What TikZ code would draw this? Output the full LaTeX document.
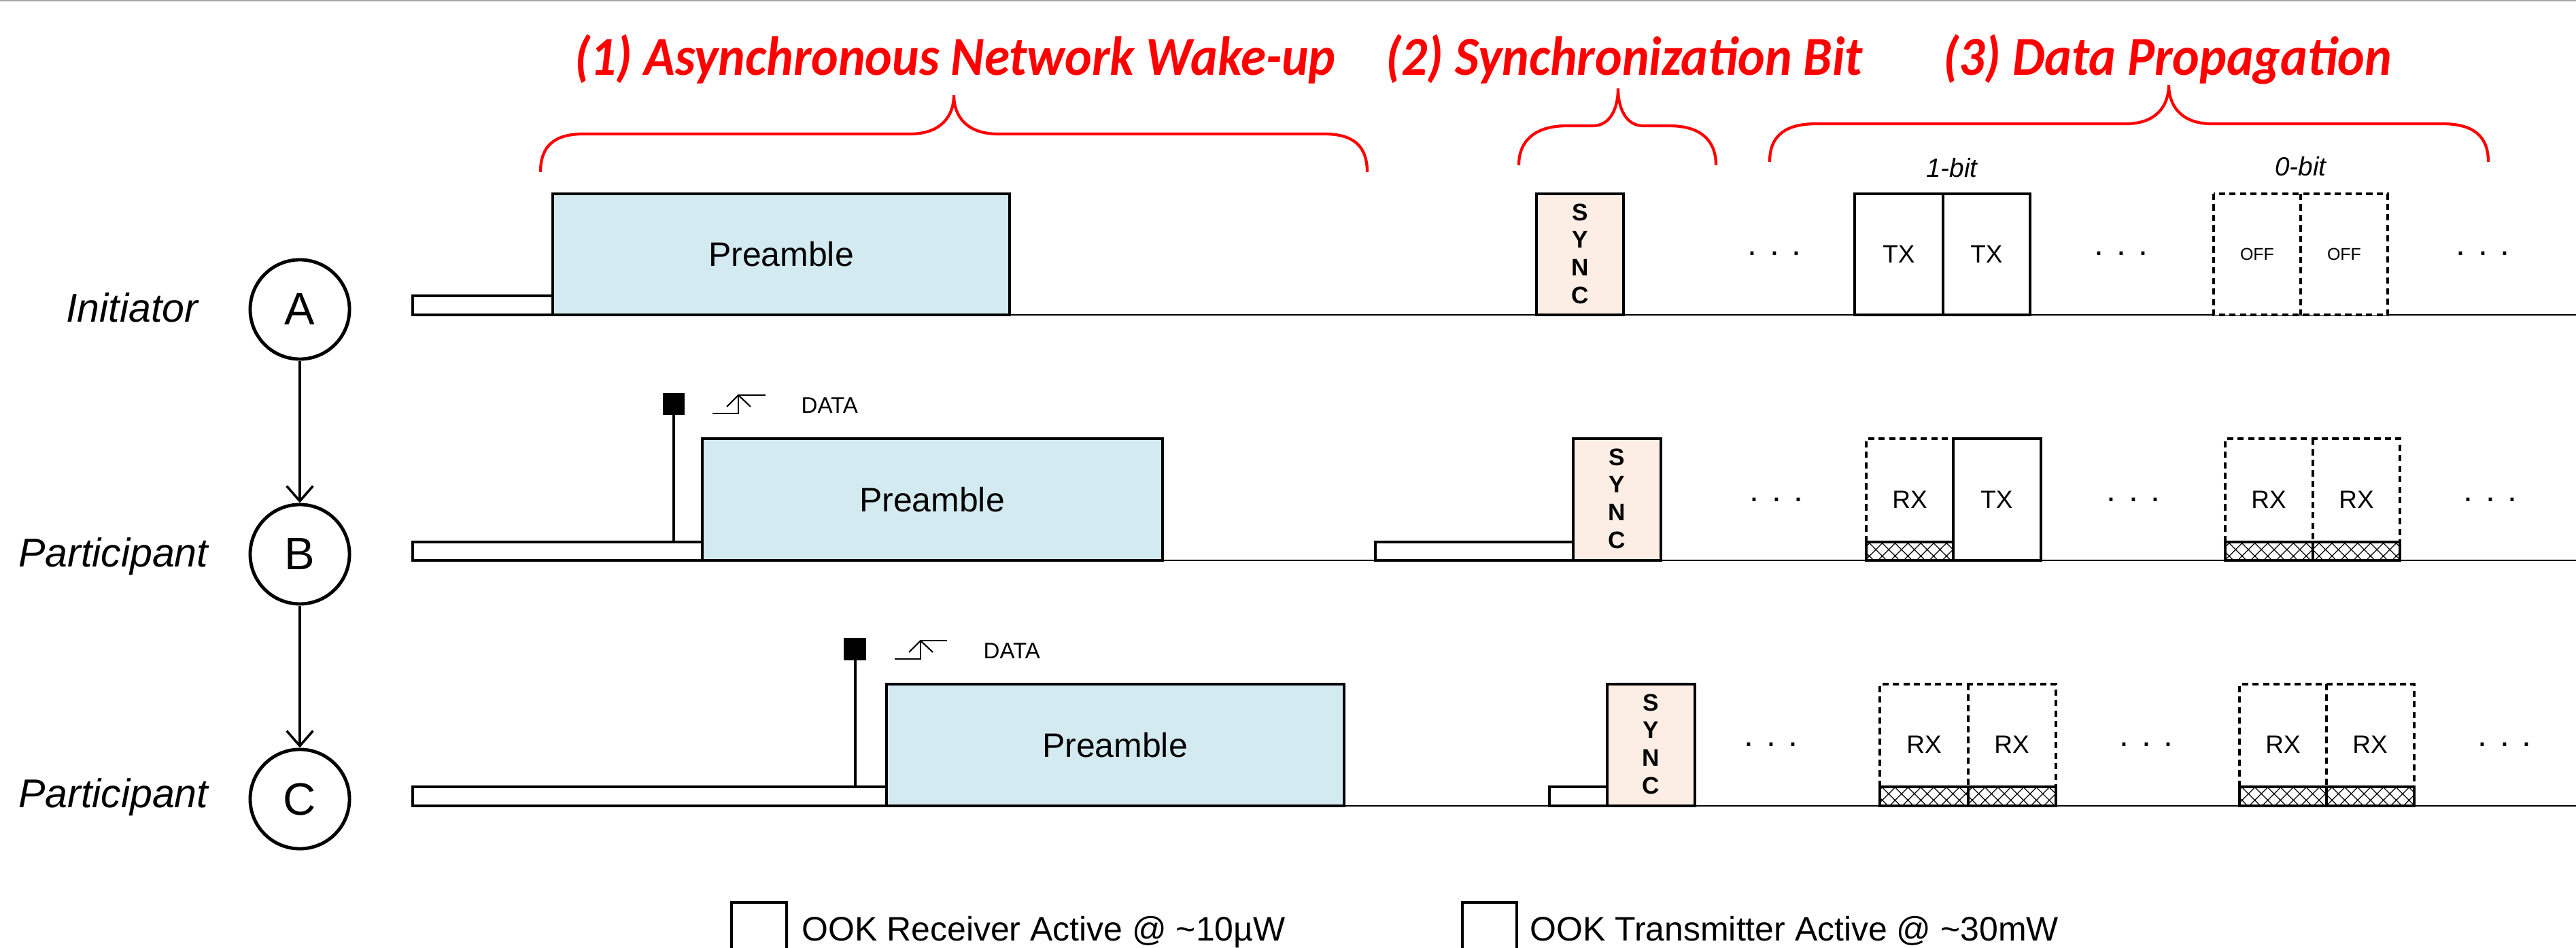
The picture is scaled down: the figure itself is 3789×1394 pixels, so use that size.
\documentclass[tikz,border=0pt]{standalone}
\usepackage{fontspec}
\setmainfont{Liberation Sans}
\newfontfamily\titlefont[FakeStretch=0.93]{Carlito}
\usetikzlibrary{arrows.meta,patterns.meta}
\definecolor{preblue}{RGB}{210,234,240}
\definecolor{syncfill}{RGB}{252,238,228}
\begin{document}
\begin{tikzpicture}[x=0.01cm,y=-0.01cm,
  box/.style={draw=black,line width=1.4pt},
  dbox/.style={draw=black,line width=1.4pt,dash pattern=on 2.6pt off 1.8pt},
  hbar/.style={draw=black,line width=1.4pt,preaction={fill=white},pattern={Hatch[angle=45,distance=3.8pt,line width=0.35pt]}},
  tline/.style={draw=black,line width=0.6pt},
  brace/.style={draw=red,line width=1.2pt},
  ttl/.style={text=red,font=\titlefont\bfseries\itshape\fontsize{23pt}{26pt}\selectfont,anchor=base,inner sep=0},
  role/.style={font=\itshape\fontsize{16.8pt}{18pt}\selectfont,anchor=base east,inner sep=0},
  circ/.style={circle,draw,line width=1.4pt,minimum size=1.46cm,inner sep=0,font=\fontsize{19pt}{20pt}\selectfont},
  arr/.style={line width=1pt,-{Straight Barb[length=6.3pt,width=11pt,line width=1pt]}},
  big/.style={font=\fontsize{14.2pt}{16pt}\selectfont,inner sep=0},
  mid/.style={font=\fontsize{10.5pt}{12pt}\selectfont,inner sep=0},
  tiny/.style={font=\fontsize{7.1pt}{8pt}\selectfont,inner sep=0},
  syncl/.style={font=\bfseries\fontsize{10pt}{11pt}\selectfont,inner sep=0},
  datal/.style={font=\fontsize{9.4pt}{10pt}\selectfont,anchor=base west,inner sep=0},
  bitl/.style={font=\itshape\fontsize{11pt}{12pt}\selectfont,anchor=base,inner sep=0},
  legl/.style={font=\fontsize{14.2pt}{16pt}\selectfont,anchor=base west,inner sep=0},
  edge/.style={draw=black,line width=0.6pt}
]
\useasboundingbox (0,0) rectangle (3789,1394);
\draw[gray!70,line width=0.5pt] (0,1) -- (3789,1);

% ---------- titles and braces ----------
\node[ttl] (t1) at (1405,111) {(1) Asynchronous Network Wake-up};
\node[ttl] (t2) at (2389,111) {(2) Synchronization Bit};
\node[ttl] (t3) at (3188,111) {(3) Data Propagation};
\draw[brace] (795,253) .. controls (795,215) and (815,197) .. (858,197) -- (1338,197)
  .. controls (1385,197) and (1403,170) .. (1403,140)
  .. controls (1403,170) and (1421,197) .. (1468,197) -- (1948,197)
  .. controls (1991,197) and (2011,215) .. (2011,253);
\draw[brace] (2234,243) .. controls (2234,205) and (2260,185) .. (2305,185) -- (2343,185)
  .. controls (2368,185) and (2380,160) .. (2380,130)
  .. controls (2380,160) and (2392,185) .. (2417,185) -- (2455,185)
  .. controls (2500,185) and (2524,205) .. (2524,243);
\draw[brace] (2603,238) .. controls (2603,200) and (2625,182) .. (2672,182) -- (3127,182)
  .. controls (3172,182) and (3190,155) .. (3190,125)
  .. controls (3190,155) and (3208,182) .. (3253,182) -- (3592,182)
  .. controls (3638,182) and (3660,200) .. (3660,238);

% ---------- roles and nodes ----------
\node[role] (roleA) at (292,473) {Initiator};
\node[role] (roleB) at (307,833) {Participant};
\node[role] (roleC) at (307,1187) {Participant};
\node[circ] (A) at (441,455) {A};
\node[circ] (B) at (441,815) {B};
\node[circ] (C) at (441,1175) {C};
\draw[arr] (A) -- (B);
\draw[arr] (B) -- (C);

% ---------- row A ----------
\draw[tline] (1485,463) -- (3789,463);
\draw[box,fill=white] (607,435) rectangle (813,463);
\draw[box,fill=preblue] (813,285) rectangle (1485,463);
\node[big] (pA) at (1149,374) {Preamble};
\draw[box,fill=syncfill] (2260,285) rectangle (2388,463);
\foreach \l/\yy [count=\i] in {S/312,Y/352,N/393,C/434}
  \node[syncl] (sA\i) at (2324,\yy) {\l};
\node[big] (dA1) at (2610,373) {. . .};
\node[big] (dA2) at (3120,373) {. . .};
\node[big] (dA3) at (3652,373) {. . .};
\draw[box,fill=white] (2728,285) rectangle (2858,463);
\draw[box,fill=white] (2858,285) rectangle (2986,463);
\node[mid] (txA1) at (2793,374) {TX};
\node[mid] (txA2) at (2922,374) {TX};
\node[bitl] (b1) at (2871,261) {1-bit};
\draw[dbox,fill=white] (3256,285) rectangle (3512,463);
\draw[dbox] (3384,285) -- (3384,463);
\node[tiny] (offA1) at (3320,374) {OFF};
\node[tiny] (offA2) at (3448,374) {OFF};
\node[bitl] (b0) at (3384,259) {0-bit};

% ---------- row B ----------
\draw[tline] (1710,824) -- (3789,824);
\draw[box,fill=white] (607,797) rectangle (1033,824);
\draw[line width=1pt] (991,797) -- (991,610);
\fill (975,578) rectangle (1007,610);
\draw[edge] (1048,608) -- (1086,608) -- (1086,581) -- (1126,581);
\draw[edge] (1069,598) -- (1086,581) -- (1104,598);
\node[datal] (dataB) at (1178,607) {DATA};
\draw[box,fill=preblue] (1033,645) rectangle (1710,824);
\node[big] (pB) at (1371,735) {Preamble};
\draw[box,fill=white] (2023,797) rectangle (2314,824);
\draw[box,fill=syncfill] (2314,645) rectangle (2443,824);
\foreach \l/\yy [count=\i] in {S/672,Y/712,N/753,C/794}
  \node[syncl] (sB\i) at (2378,\yy) {\l};
\node[big] (dB1) at (2613,735) {. . .};
\node[big] (dB2) at (3138,735) {. . .};
\node[big] (dB3) at (3663,735) {. . .};
\draw[dbox] (2745,797) -- (2745,645) -- (2873,645);
\draw[hbar] (2745,797) rectangle (2873,824);
\draw[box,fill=white] (2873,645) rectangle (3002,824);
\node[mid] (rxB1) at (2809,735) {RX};
\node[mid] (txB1) at (2937,735) {TX};
\draw[dbox] (3273,797) -- (3273,645) -- (3530,645) -- (3530,797);
\draw[dbox] (3402,645) -- (3402,797);
\draw[hbar] (3273,797) rectangle (3402,824);
\draw[hbar] (3402,797) rectangle (3530,824);
\node[mid] (rxB2) at (3337,735) {RX};
\node[mid] (rxB3) at (3466,735) {RX};

% ---------- row C ----------
\draw[tline] (1977,1185) -- (3789,1185);
\draw[box,fill=white] (607,1157) rectangle (1304,1185);
\draw[line width=1pt] (1258,1157) -- (1258,971);
\fill (1241,938) rectangle (1274,971);
\draw[edge] (1316,969) -- (1354,969) -- (1354,942) -- (1393,942);
\draw[edge] (1337,959) -- (1354,942) -- (1372,959);
\node[datal] (dataC) at (1446,968) {DATA};
\draw[box,fill=preblue] (1304,1006) rectangle (1977,1185);
\node[big] (pC) at (1640,1096) {Preamble};
\draw[box,fill=white] (2279,1157) rectangle (2364,1185);
\draw[box,fill=syncfill] (2364,1006) rectangle (2493,1185);
\foreach \l/\yy [count=\i] in {S/1033,Y/1073,N/1114,C/1155}
  \node[syncl] (sC\i) at (2428,\yy) {\l};
\node[big] (dC1) at (2605,1095) {. . .};
\node[big] (dC2) at (3157,1095) {. . .};
\node[big] (dC3) at (3684,1095) {. . .};
\draw[dbox] (2765,1157) -- (2765,1006) -- (3024,1006) -- (3024,1157);
\draw[dbox] (2895,1006) -- (2895,1157);
\draw[hbar] (2765,1157) rectangle (2895,1185);
\draw[hbar] (2895,1157) rectangle (3024,1185);
\node[mid] (rxC1) at (2830,1095) {RX};
\node[mid] (rxC2) at (2959,1095) {RX};
\draw[dbox] (3294,1157) -- (3294,1006) -- (3551,1006) -- (3551,1157);
\draw[dbox] (3422,1006) -- (3422,1157);
\draw[hbar] (3294,1157) rectangle (3422,1185);
\draw[hbar] (3422,1157) rectangle (3551,1185);
\node[mid] (rxC3) at (3358,1095) {RX};
\node[mid] (rxC4) at (3486,1095) {RX};

% ---------- legend ----------
\draw[box] (1076,1394) -- (1076,1327) -- (1157,1327) -- (1157,1394);
\node[legl] (leg1) at (1179,1383) {OOK Receiver Active @ \textasciitilde10µW};
\draw[box] (2151,1394) -- (2151,1327) -- (2231,1327) -- (2231,1394);
\node[legl] (leg2) at (2250,1383) {OOK Transmitter Active @ \textasciitilde30mW};
\end{tikzpicture}
\end{document}
